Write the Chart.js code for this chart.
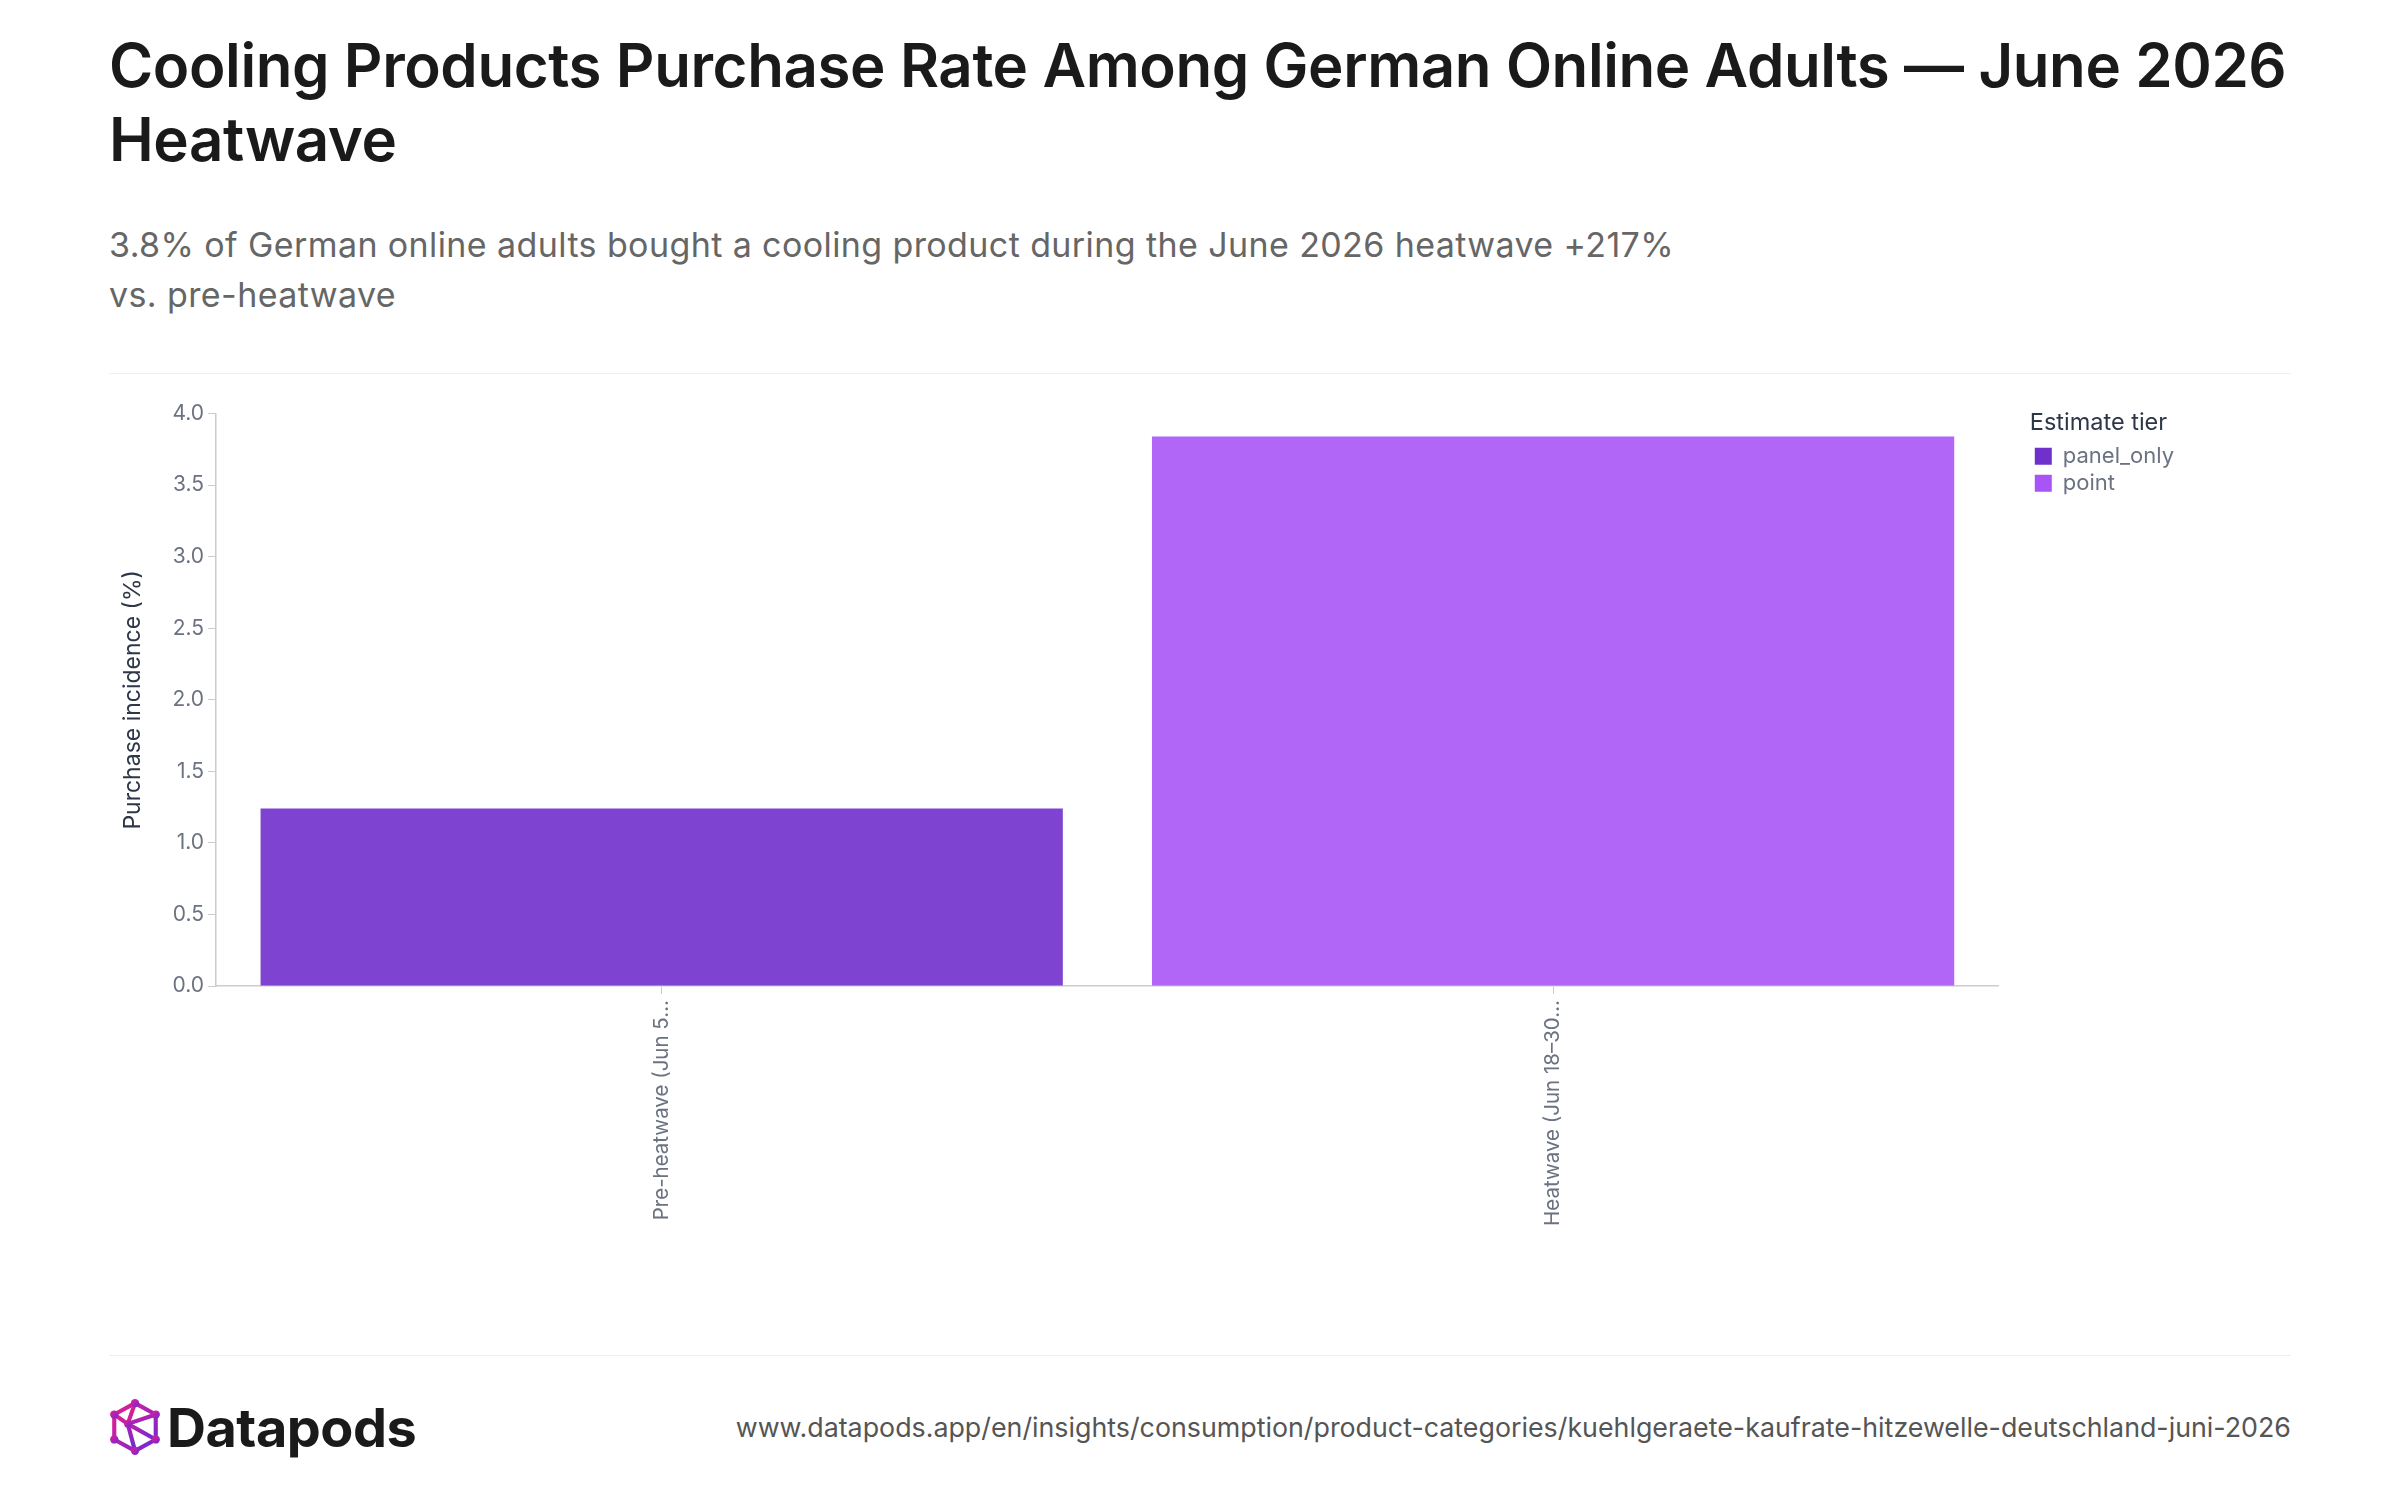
<!DOCTYPE html>
<html>
  <head>
    <script src="https://cdn.jsdelivr.net/npm/chart.js@4"></script>
    <style>
      body { margin: 0; width: 2400px; height: 1500px; background: #fff; font-family: Inter, "Noto Sans", sans-serif; position: relative; overflow: hidden; }
      .title { position: absolute; left: 109px; top: 28px; font-size: 60px; line-height: 74px; font-weight: 600; color: #1a1a1a; letter-spacing: -0.4px; white-space: nowrap; }
      .subtitle { position: absolute; left: 109px; top: 220px; font-size: 34px; line-height: 50px; color: #666; letter-spacing: 0.4px; white-space: nowrap; }
      .rule { position: absolute; left: 109px; width: 2182px; height: 1px; background: #eeeeee; }
      .chart { position: absolute; left: 109px; top: 397px; width: 2075px; height: 835px; }
      .footer { position: absolute; left: 109px; right: 109px; top: 1400px; height: 54px; display: flex; align-items: center; justify-content: space-between; }
      .brand { display: flex; align-items: center; font-size: 54px; font-weight: 700; color: #1a1a1a; letter-spacing: -0.5px; }
      .brand svg { margin-right: 6px; }
      .url { font-size: 26.8px; color: #555; }
    </style>
  </head>

  <body>
    <div class="title">Cooling Products Purchase Rate Among German Online Adults — June 2026<br>Heatwave</div>
    <div class="subtitle">3.8% of German online adults bought a cooling product during the June 2026 heatwave +217%<br>vs. pre-heatwave</div>
    <div class="rule" style="top: 373px"></div>
    <div class="chart"><canvas id="canvas"></canvas></div>
    <div class="rule" style="top: 1355px"></div>
    <div class="footer">
      <div class="brand">
        <svg width="52" height="56" viewBox="0 0 50 54">
          <defs>
            <linearGradient id="lg" x1="0" y1="0" x2="1" y2="1">
              <stop offset="0" stop-color="#e91e8c" />
              <stop offset="1" stop-color="#6d28d9" />
            </linearGradient>
          </defs>
          <g stroke="url(#lg)" stroke-width="4" fill="none" stroke-linejoin="round">
            <polygon points="25,4 45,15 45,39 25,50 5,39 5,15" />
            <polyline points="25,4 18,24 45,39" />
            <polyline points="5,15 18,24 25,50" />
            <line x1="18" y1="24" x2="45" y2="15" />
          </g>
          <g fill="url(#lg)">
            <circle cx="25" cy="4" r="4" /><circle cx="45" cy="15" r="4" /><circle cx="45" cy="39" r="4" />
            <circle cx="25" cy="50" r="4" /><circle cx="5" cy="39" r="4" /><circle cx="5" cy="15" r="4" />
            <circle cx="18" cy="24" r="3.5" />
          </g>
        </svg>
        Datapods
      </div>
      <div class="url">www.datapods.app/en/insights/consumption/product-categories/kuehlgeraete-kaufrate-hitzewelle-deutschland-juni-2026</div>
    </div>
    <script>
      // values
      const categories = ['Pre-heatwave (Jun 5–17)', 'Heatwave (Jun 18–30)'];
      const incidence = [1.24, 3.84];
      const barTier = ['panel_only', 'point'];
      const tierNames = ['panel_only', 'point'];
      const yTicks = [0, 0.5, 1, 1.5, 2, 2.5, 3, 3.5, 4];

      const tierColor = { panel_only: '#7030cc', point: '#a855f7' };
      const tierFill = { panel_only: 'rgba(112, 48, 204, 0.9)', point: 'rgba(168, 85, 247, 0.9)' };

      Chart.defaults.font.family = 'Inter, "Noto Sans", sans-serif';

      // push the legend a bit away from the plot area
      const legendGap = {
        id: 'legendGap',
        beforeLayout(chart) {
          const lg = chart.legend;
          if (lg && !lg._gapDone) {
            const fit = lg.fit.bind(lg);
            lg.fit = function () {
              fit();
              this.width += 31;
            };
            lg._gapDone = true;
          }
        },
        afterLayout(chart) {
          if (chart.legend) chart.legend.left += 31;
        },
      };

      new Chart(document.getElementById('canvas').getContext('2d'), {
        type: 'bar',
        data: {
          labels: categories,
          datasets: [
            {
              label: 'Purchase incidence (%)',
              data: incidence,
              backgroundColor: barTier.map((t) => tierFill[t]),
              borderWidth: 0,
              barPercentage: 0.9,
              categoryPercentage: 1.0,
            },
          ],
        },
        plugins: [legendGap],
        options: {
          responsive: true,
          maintainAspectRatio: false,
          animation: false,
          layout: { padding: 0 },
          plugins: {
            tooltip: { enabled: false },
            legend: {
              position: 'right',
              align: 'start',
              title: {
                display: true,
                position: 'start',
                text: 'Estimate tier',
                color: '#2d3748',
                font: { size: 23.5 },
                padding: { top: 14, bottom: 1 },
              },
              labels: {
                boxWidth: 17,
                boxHeight: 17,
                padding: 5,
                color: '#6b7280',
                font: { size: 22 },
                generateLabels: () =>
                  tierNames.map((t) => ({
                    text: t,
                    fillStyle: tierColor[t],
                    strokeStyle: tierColor[t],
                    lineWidth: 0,
                    fontColor: '#6b7280',
                    hidden: false,
                  })),
              },
              onClick: () => {},
            },
          },
          scales: {
            x: {
              border: { color: '#cccccc', width: 1.5 },
              grid: { display: true, offset: false, drawOnChartArea: false, tickLength: 8, color: '#cccccc' },
              ticks: {
                color: '#6b7280',
                font: { size: 20.5 },
                maxRotation: 90,
                minRotation: 90,
                padding: 6,
                callback: function (value) {
                  const s = this.getLabelForValue(value);
                  return s.length > 19 ? s.slice(0, 19) + '…' : s;
                },
              },
              afterFit: (scale) => {
                scale.height = 246;
              },
            },
            y: {
              min: 0,
              max: 4,
              afterBuildTicks: (scale) => {
                scale.ticks = yTicks.map((v) => ({ value: v }));
              },
              border: { color: '#cccccc', width: 1.5 },
              grid: { display: true, drawOnChartArea: false, tickLength: 8, color: '#cccccc' },
              ticks: {
                color: '#6b7280',
                font: { size: 21 },
                padding: 4,
                callback: (v) => Number(v).toFixed(1),
              },
              title: {
                display: true,
                text: 'Purchase incidence (%)',
                color: '#2d3748',
                font: { size: 23 },
                padding: { top: 10, bottom: 0 },
              },
              afterFit: (scale) => {
                scale.width = 107;
              },
            },
          },
        },
      });
    </script>
  </body>
</html>
